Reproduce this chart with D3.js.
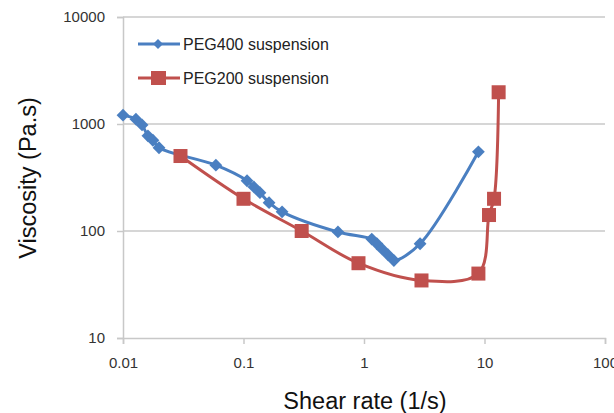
<!DOCTYPE html>
<html><head><meta charset="utf-8">
<script src="https://cdn.jsdelivr.net/npm/d3@7"></script>
<style>body{margin:0;background:#fff;} svg{display:block;font-family:"Liberation Sans",Arial,sans-serif;}</style>
</head><body>
<svg id="chart" width="614" height="413"></svg>
<script>
const peg400Shear = [0.01, 0.0128, 0.0144, 0.0161, 0.0177, 0.0199, 0.059, 0.107, 0.122, 0.137, 0.163, 0.209, 0.608, 1.16, 1.28, 1.41, 1.58, 1.77, 2.92, 8.9];
const peg400Visc  = [1210, 1110, 980, 775, 705, 600, 412, 295, 258, 228, 184, 151, 98, 84, 76, 68, 60, 53, 76, 550];
const peg200Shear = [0.03, 0.1, 0.304, 0.9, 3.0, 8.9, 10.9, 12.0, 13.1];
const peg200Visc  = [502, 200, 100, 50, 34.5, 40, 141, 200, 1980];
const xTicks = [0.01, 0.1, 1, 10, 100];
const yTicks = [10, 100, 1000, 10000];
const seriesNames = ["PEG400 suspension", "PEG200 suspension"];

const svg = d3.select("#chart");
const x = d3.scaleLog().domain([0.01, 100]).range([123, 605]);
const y = d3.scaleLog().domain([10, 10000]).range([338, 17]);
const grid = "#c8c8c8";
const font = "Liberation Sans, Arial, sans-serif";

// gridlines
svg.append("g").selectAll("line").data(yTicks.filter(d => d > 10)).join("line")
  .attr("x1", 123).attr("x2", 605).attr("y1", d => y(d)).attr("y2", d => y(d))
  .attr("stroke", grid).attr("stroke-width", 1.5);

// x axis
const xAxis = svg.append("g").attr("transform", "translate(0,338)")
  .call(d3.axisBottom(x).tickValues(xTicks).tickFormat(d => String(d)).tickSize(6).tickPadding(13));
xAxis.select(".domain").attr("stroke", grid).attr("stroke-width", 1.5);
xAxis.selectAll(".tick line").attr("stroke", grid).attr("stroke-width", 1.5);
xAxis.selectAll("text").attr("font-size", 15).attr("fill", "#333").attr("font-family", font);

// y axis
const yAxis = svg.append("g").attr("transform", "translate(123,0)")
  .call(d3.axisLeft(y).tickValues(yTicks).tickFormat(d => String(d)).tickSize(6).tickPadding(12));
yAxis.select(".domain").attr("stroke", grid).attr("stroke-width", 1.5);
yAxis.selectAll(".tick line").attr("stroke", grid).attr("stroke-width", 1.5);
yAxis.selectAll("text").attr("font-size", 15).attr("fill", "#333").attr("font-family", font);

const blue = "#4a7fc1", red = "#c0504d";
const line = d3.line().x(d => x(d[0])).y(d => y(d[1])).curve(d3.curveCatmullRom.alpha(0.5));
const d400 = peg400Shear.map((s, i) => [s, peg400Visc[i]]);
const d200 = peg200Shear.map((s, i) => [s, peg200Visc[i]]);

svg.append("path").datum(d400).attr("d", line).attr("fill", "none").attr("stroke", blue).attr("stroke-width", 3);
svg.append("path").datum(d200).attr("d", line).attr("fill", "none").attr("stroke", red).attr("stroke-width", 3);

svg.append("g").selectAll("path").data(d400).join("path")
  .attr("transform", d => `translate(${x(d[0])},${y(d[1])}) rotate(45)`)
  .attr("d", d3.symbol().type(d3.symbolSquare).size(82)).attr("fill", blue);
svg.append("g").selectAll("rect").data(d200).join("rect")
  .attr("x", d => x(d[0]) - 7).attr("y", d => y(d[1]) - 7).attr("width", 14).attr("height", 14).attr("fill", red);

// legend
const leg = svg.append("g");
[[blue, 44, "d"], [red, 78, "s"]].forEach(([c, ly, m], i) => {
  leg.append("line").attr("x1", 138).attr("x2", 180).attr("y1", ly).attr("y2", ly).attr("stroke", c).attr("stroke-width", 3);
  if (m === "d") leg.append("path").attr("transform", `translate(158,${ly}) rotate(45)`).attr("d", d3.symbol().type(d3.symbolSquare).size(50)).attr("fill", c);
  else leg.append("rect").attr("x", 151).attr("y", ly - 7).attr("width", 15).attr("height", 14).attr("fill", c);
  leg.append("text").attr("x", 183).attr("y", ly + 6).attr("font-size", 16).attr("fill", "#222").attr("font-family", font).text(seriesNames[i]);
});

// titles
svg.append("text").attr("x", 365).attr("y", 409).attr("text-anchor", "middle").attr("font-size", 23.5).attr("fill", "#111").attr("font-family", font).text("Shear rate (1/s)");
svg.append("text").attr("transform", "translate(36,178) rotate(-90)").attr("text-anchor", "middle").attr("font-size", 23.5).attr("fill", "#111").attr("font-family", font).text("Viscosity (Pa.s)");
</script>
</body></html>
